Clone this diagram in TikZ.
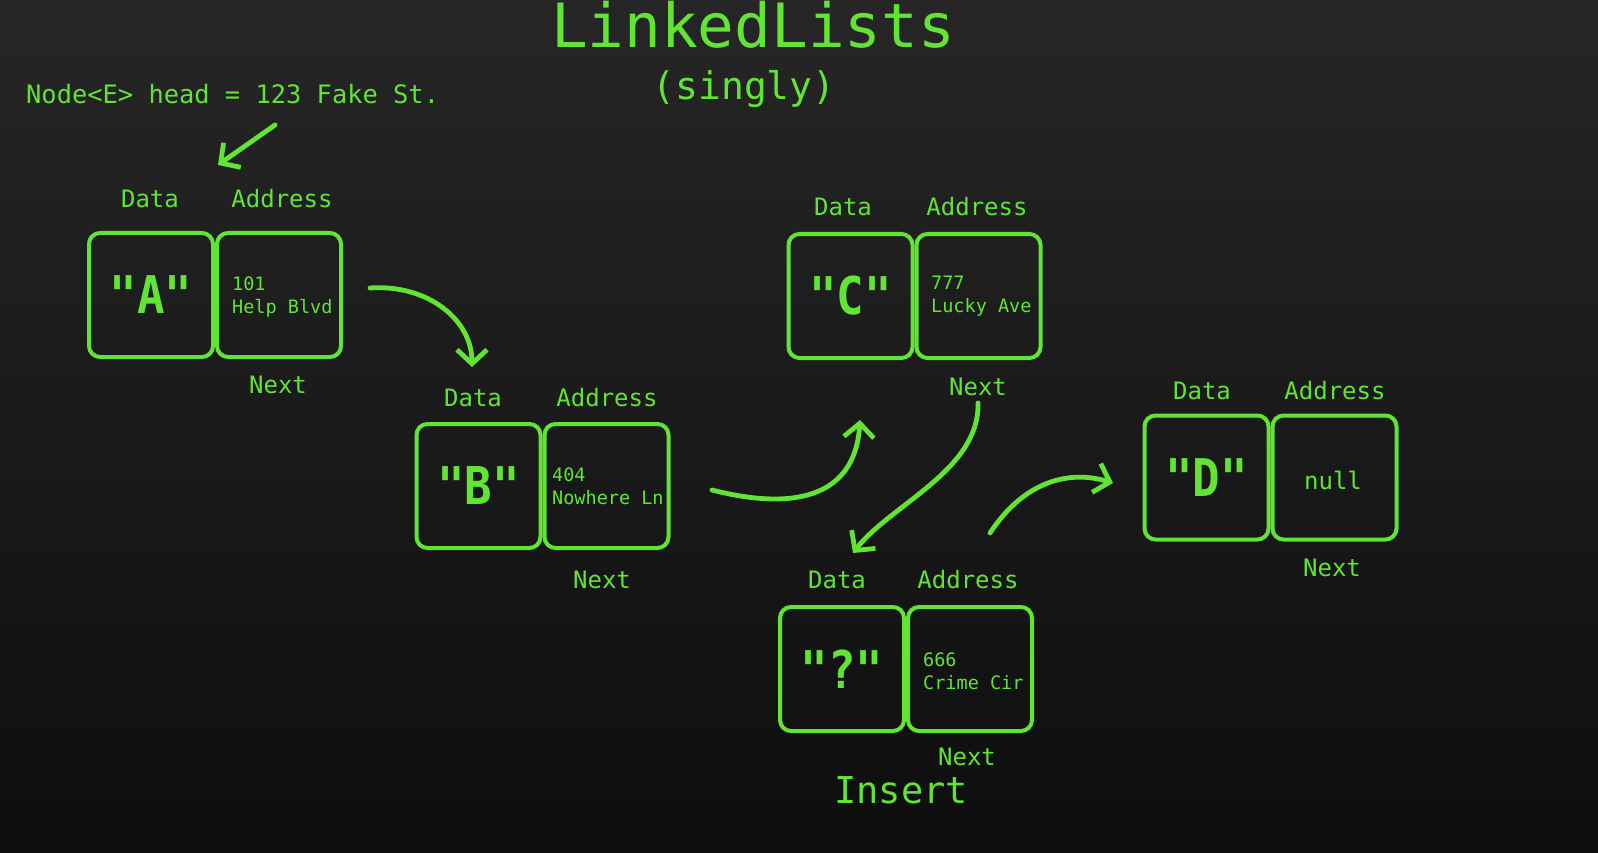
\documentclass[tikz,border=0pt]{standalone}
\usepackage{fontspec}
\setmonofont{DejaVu Sans Mono}
\newfontfamily\cellfont{DejaVu Sans Mono Bold}[FakeStretch=0.88]
\usetikzlibrary{arrows.meta}

\definecolor{term}{RGB}{98,228,52}
\definecolor{bgtop}{RGB}{38,38,38}
\definecolor{bgbot}{RGB}{14,14,15}

\tikzset{
  cell/.style={draw=term, line width=4pt, rounded corners=11pt,
    minimum width=124pt, minimum height=124pt, inner sep=0pt,
    text=term, font=\cellfont\fontsize{52}{60}\selectfont},
  lbl/.style={text=term, font=\ttfamily\fontsize{24}{28}\selectfont, inner sep=0pt},
  addr/.style={text=term, font=\ttfamily\fontsize{18.5}{23}\selectfont,
    align=left, anchor=west, inner sep=0pt},
  hand/.style={draw=term, line width=4.8pt, line cap=round, line join=round,
    -{Straight Barb[length=14pt,width=30pt]}},
}

\begin{document}
\begin{tikzpicture}[x=1pt,y=-1pt]
  % backdrop
  \shade[top color=bgtop, bottom color=bgbot] (0pt,0pt) rectangle (1598pt,-853pt);
  \useasboundingbox (0pt,0pt) rectangle (1598pt,-853pt);

  % headings
  \node[text=term, font=\ttfamily\fontsize{61}{70}\selectfont, anchor=base, inner sep=0pt]
    (title) at (753,48) {LinkedLists};
  \node[text=term, font=\ttfamily\fontsize{38}{44}\selectfont, anchor=base, inner sep=0pt]
    (subtitle) at (744,100) {(singly)};
  \node[text=term, font=\ttfamily\fontsize{25.4}{30}\selectfont, anchor=base west, inner sep=0pt]
    (head) at (26,104) {Node<E> head = 123 Fake St.};
  \node[text=term, font=\ttfamily\fontsize{37}{44}\selectfont, anchor=base, inner sep=0pt]
    (insert) at (901,803) {Insert};

  % node A
  \node[cell] (Ad) at (151,295) {"A"};
  \node[cell] (Aa) at (279,295) {};
  \node[addr] (At) at (232,297) {101\\Help Blvd};
  \node[lbl] (AdL) at (150,199) {Data};
  \node[lbl] (AaL) at (282,199) {Address};
  \node[lbl] (AnL) at (278,385) {Next};

  % node B
  \node[cell] (Bd) at (478.5,486) {"B"};
  \node[cell] (Ba) at (606.5,486) {};
  \node[addr] (Bt) at (552,486) {404\\Nowhere Ln};
  \node[lbl] (BdL) at (473,398) {Data};
  \node[lbl] (BaL) at (607,398) {Address};
  \node[lbl] (BnL) at (602,580) {Next};

  % node C
  \node[cell] (Cd) at (850.5,296) {"C"};
  \node[cell] (Ca) at (978.5,296) {};
  \node[addr] (Ct) at (931,296) {777\\Lucky Ave};
  \node[lbl] (CdL) at (843,207) {Data};
  \node[lbl] (CaL) at (977,207) {Address};
  \node[lbl] (CnL) at (978,387) {Next};

  % inserted node
  \node[cell] (Qd) at (842,669) {"?"};
  \node[cell] (Qa) at (970,669) {};
  \node[addr] (Qt) at (923,671) {666\\Crime Cir};
  \node[lbl] (QdL) at (837,580) {Data};
  \node[lbl] (QaL) at (968,580) {Address};
  \node[lbl] (QnL) at (967,757) {Next};

  % node D
  \node[cell] (Dd) at (1206.5,477.5) {"D"};
  \node[cell] (Da) at (1334.5,477.5) {};
  \node[lbl] (Dt) at (1333,480) {null};
  \node[lbl] (DdL) at (1202,391) {Data};
  \node[lbl] (DaL) at (1335,391) {Address};
  \node[lbl] (DnL) at (1332,568) {Next};

  % hand-drawn pointers
  \coordinate (h0) at (275,125);   \coordinate (h1) at (218,165);
  \coordinate (ab0) at (370,288);  \coordinate (ab1) at (472,367);
  \coordinate (bc0) at (712,490);  \coordinate (bc1) at (860,420);
  \coordinate (cq0) at (978,403);  \coordinate (cq1) at (853,553);
  \coordinate (qd0) at (990,533);  \coordinate (qd1) at (1113,483);

  \draw[hand] (h0) -- (h1);
  \draw[hand] (ab0) .. controls (428,284) and (472,320) .. (ab1);
  \draw[hand] (bc0) .. controls (790,510) and (855,500) .. (bc1);
  \draw[hand] (cq0) .. controls (980,470) and (890,505) .. (cq1);
  \draw[hand] (qd0) .. controls (1025,480) and (1070,470) .. (qd1);
\end{tikzpicture}
\end{document}
